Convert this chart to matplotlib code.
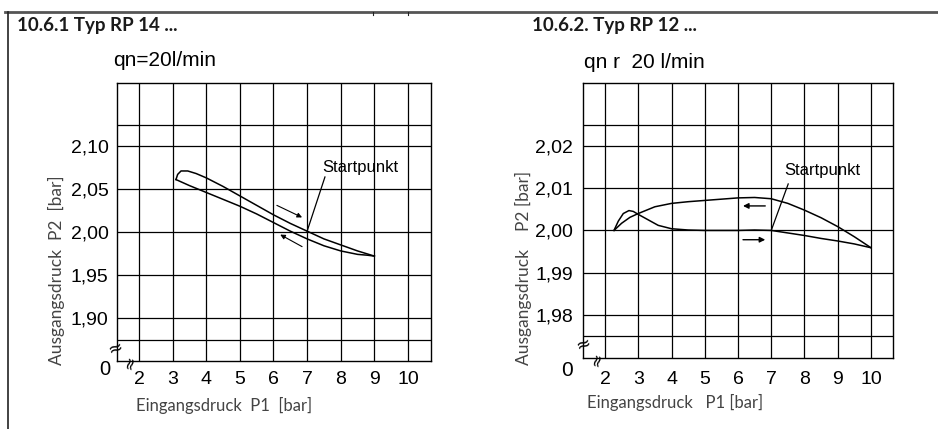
import matplotlib
matplotlib.use("Agg")
import matplotlib.pyplot as plt
from matplotlib.lines import Line2D

W, H = 938, 429

# ---------------- data ----------------
x_ticks = [2, 3, 4, 5, 6, 7, 8, 9, 10]
x_ticklabels = ["2", "3", "4", "5", "6", "7", "8", "9", "10"]

# left chart (RP 14)
l_grid_y = [1.875, 1.90, 1.95, 2.00, 2.05, 2.10, 2.125]
l_grid_labels = ["", "1,90", "1,95", "2,00", "2,05", "2,10", ""]
l_up_x = [3.10, 3.15, 3.25, 3.45, 3.70, 4.00, 4.50, 5.00, 5.50, 6.00, 6.50, 7.00, 7.50, 8.00, 8.50, 9.00]
l_up_y = [2.061, 2.067, 2.071, 2.071, 2.068, 2.063, 2.053, 2.042, 2.031, 2.020, 2.010, 2.001, 1.992, 1.985, 1.978, 1.972]
l_lo_x = [3.10, 3.50, 4.00, 4.50, 5.00, 5.50, 6.00, 6.50, 7.00, 7.50, 8.00, 8.50, 8.80, 9.00]
l_lo_y = [2.061, 2.054, 2.046, 2.038, 2.030, 2.021, 2.011, 2.001, 1.992, 1.984, 1.978, 1.974, 1.973, 1.972]

# right chart (RP 12)
r_grid_y = [1.975, 1.98, 1.99, 2.00, 2.01, 2.02, 2.025]
r_grid_labels = ["", "1,98", "1,99", "2,00", "2,01", "2,02", ""]
r_a_x = [2.27, 2.40, 2.55, 2.72, 2.85, 3.00, 3.30, 3.60, 4.00, 4.50, 5.00, 6.00, 6.50, 7.00, 7.50, 8.00, 8.50, 9.00, 9.50, 10.00]
r_a_y = [2.0000, 2.0022, 2.0040, 2.0047, 2.0045, 2.0038, 2.0025, 2.0012, 2.0004, 2.0001, 2.0000, 2.0000, 2.0001, 2.0000, 1.9994, 1.9988, 1.9981, 1.9975, 1.9968, 1.9959]
r_b_x = [2.27, 2.50, 2.75, 3.00, 3.50, 4.00, 4.50, 5.00, 5.50, 6.00, 6.50, 7.00, 7.50, 8.00, 8.50, 9.00, 9.50, 10.00]
r_b_y = [2.0000, 2.0017, 2.0031, 2.0040, 2.0056, 2.0064, 2.0068, 2.0071, 2.0074, 2.0077, 2.0078, 2.0075, 2.0064, 2.0048, 2.0030, 2.0009, 1.9985, 1.9959]

NARROW = ["Liberation Sans", "DejaVu Sans"]
GEO = ["Lato", "DejaVu Sans"]

fig = plt.figure(figsize=(W / 100, H / 100), dpi=100)
fig.patch.set_facecolor("white")


def fx(px):
    return px / W


def fy(py):
    return 1 - py / H


# frame lines
fig.add_artist(Line2D([fx(5), fx(938)], [fy(12), fy(12)], color="#555555", lw=2.0))
fig.add_artist(Line2D([fx(8), fx(8)], [fy(12), fy(429)], color="#222222", lw=1.2))
fig.add_artist(Line2D([fx(373), fx(373)], [fy(12), fy(15)], color="#222222", lw=0.8))
fig.add_artist(Line2D([fx(408), fx(408)], [fy(12), fy(15)], color="#222222", lw=0.8))


def make_axes(rect, xlim, ylim, grid_y, grid_labels, xpad, ypad):
    ax = fig.add_axes(rect)
    ax.set_xlim(*xlim)
    ax.set_ylim(*ylim)
    ax.set_xticks(x_ticks)
    ax.set_xticklabels(x_ticklabels, family=NARROW, fontsize=14)
    ax.set_yticks(grid_y)
    ax.set_yticklabels(grid_labels, family=NARROW, fontsize=14)
    ax.tick_params(axis="x", length=0, pad=xpad)
    ax.tick_params(axis="y", length=0, pad=ypad)
    ax.grid(True, color="black", lw=0.9)
    ax.set_axisbelow(True)
    for s in ax.spines.values():
        s.set_linewidth(1.0)
    return ax


# ---------------- left ----------------
axl = make_axes([fx(117), fy(361), (431 - 117) / W, (361 - 83) / H],
                (1.346, 10.684), (1.85, 2.1733), l_grid_y, l_grid_labels, 7, 6)
axl.plot(l_up_x, l_up_y, color="black", lw=1.1)
axl.plot(l_lo_x, l_lo_y, color="black", lw=1.1)
ap = dict(arrowstyle="-|>", color="black", lw=0.8, mutation_scale=7, shrinkA=0, shrinkB=0)
axl.annotate("", xy=(6.85, 2.017), xytext=(6.10, 2.031), arrowprops=ap)
axl.annotate("", xy=(6.20, 1.997), xytext=(6.85, 1.983), arrowprops=ap)
axl.plot([7.53, 7.0], [2.064, 2.001], color="black", lw=0.9)
axl.text(8.58, 2.0756, "Startpunkt", family=NARROW, fontsize=12, ha="center", va="center")
axl.text(-0.006, 0.043, "≈", transform=axl.transAxes, fontsize=13, ha="center", va="center",
         rotation=20, clip_on=False, family="DejaVu Sans")
axl.text(0.041, -0.006, "≈", transform=axl.transAxes, fontsize=12, ha="center", va="center",
         rotation=75, clip_on=False, family="DejaVu Sans")
axl.text(-0.038, -0.032, "0", transform=axl.transAxes, fontsize=14.5, ha="center", va="center",
         clip_on=False, family=NARROW)

# ---------------- right ----------------
axr = make_axes([fx(583), fy(358), (893 - 583) / W, (358 - 83) / H],
                (1.338, 10.662), (1.9698, 2.0349), r_grid_y, r_grid_labels, 9, 7)
axr.plot(r_a_x, r_a_y, color="black", lw=1.1)
axr.plot(r_b_x, r_b_y, color="black", lw=1.1)
ap2 = dict(arrowstyle="-|>", color="black", lw=1.0, mutation_scale=8, shrinkA=0, shrinkB=0)
axr.annotate("", xy=(6.15, 2.0058), xytext=(6.82, 2.0058), arrowprops=ap2)
axr.annotate("", xy=(6.82, 1.9978), xytext=(6.15, 1.9978), arrowprops=ap2)
axr.plot([7.51, 7.0], [2.011, 2.000], color="black", lw=0.9)
axr.text(8.54, 2.0142, "Startpunkt", family=NARROW, fontsize=12, ha="center", va="center")
axr.text(0.0, 0.047, "≈", transform=axr.transAxes, fontsize=13, ha="center", va="center",
         rotation=20, clip_on=False, family="DejaVu Sans")
axr.text(0.045, -0.007, "≈", transform=axr.transAxes, fontsize=12, ha="center", va="center",
         rotation=75, clip_on=False, family="DejaVu Sans")
axr.text(-0.052, -0.047, "0", transform=axr.transAxes, fontsize=15, ha="center", va="center",
         clip_on=False, family=NARROW)

# ---------------- texts ----------------
fig.text(fx(17), fy(25), "10.6.1 Typ RP 14 ...", family=GEO, fontsize=13.5, fontweight="bold",
         ha="left", va="center", color="#1a1a1a")
fig.text(fx(532), fy(25), "10.6.2. Typ RP 12 ...", family=GEO, fontsize=13.5, fontweight="bold",
         ha="left", va="center", color="#1a1a1a")
fig.text(fx(113), fy(60), "qn=20l/min", family=NARROW, fontsize=15, ha="left", va="center")
fig.text(fx(584), fy(62), "qn r  20 l/min", family=NARROW, fontsize=15, ha="left", va="center")

fig.text(fx(224), fy(405), "Eingangsdruck  P1  [bar]", family=GEO, fontsize=12,
         ha="center", va="center", color="#444444")
fig.text(fx(675), fy(402), "Eingangsdruck   P1 [bar]", family=GEO, fontsize=12,
         ha="center", va="center", color="#444444")
fig.text(fx(56), fy(270), "Ausgangsdruck  P2  [bar]", family=GEO, fontsize=12.5,
         ha="center", va="center", rotation=90, color="#444444")
fig.text(fx(523), fy(268), "Ausgangsdruck    P2 [bar]", family=GEO, fontsize=12.5,
         ha="center", va="center", rotation=90, color="#444444")

fig.savefig("out.png", dpi=100, facecolor="white")
